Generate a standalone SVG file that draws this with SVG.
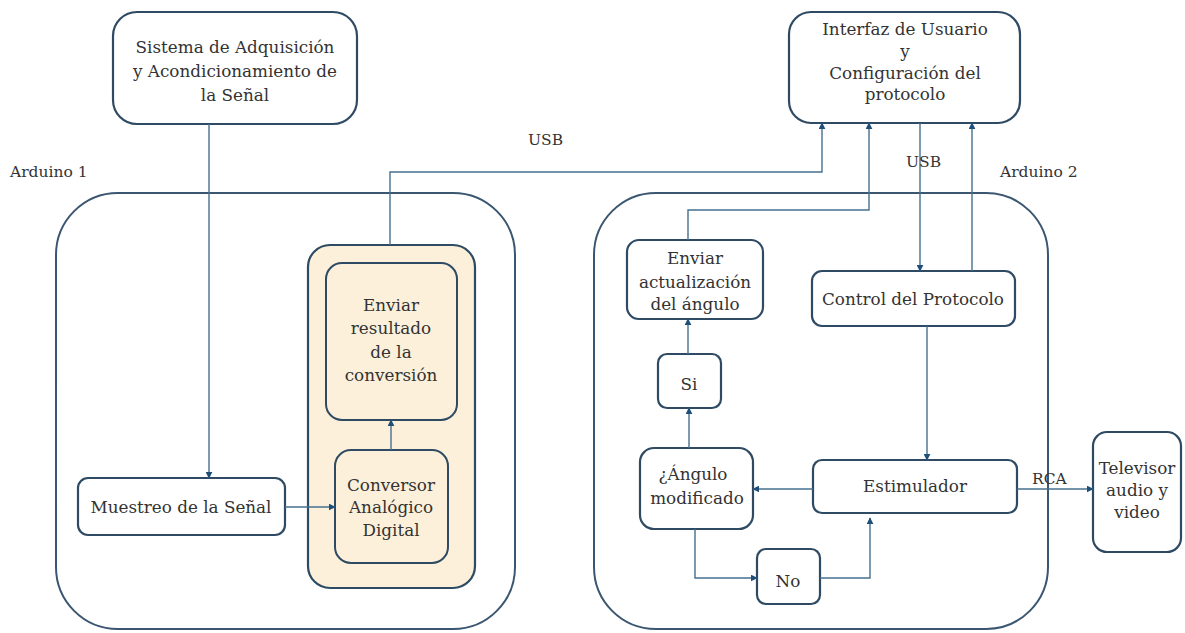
<svg xmlns="http://www.w3.org/2000/svg" width="1185" height="633" viewBox="0 0 1185 633">
<style>
.box{fill:#ffffff;stroke:#2f4a63;stroke-width:2.2}
.cont{fill:#ffffff;stroke:#3a5670;stroke-width:2}
.yel{fill:#fcf0da;stroke:#2f4a63;stroke-width:2.2}
.yin{fill:#fcf0da;stroke:#2f4a63;stroke-width:2}
.t{font-family:"DejaVu Serif","Liberation Serif",serif;font-size:16.8px;fill:#333333;text-anchor:middle}
.l{font-family:"DejaVu Serif","Liberation Serif",serif;font-size:15.5px;fill:#333333}
.c{fill:none;stroke:#45708f;stroke-width:1.4}
</style>
<defs>
<marker id="ah" viewBox="0 0 10 10" refX="9" refY="5" markerWidth="7" markerHeight="7" orient="auto" markerUnits="userSpaceOnUse">
<path d="M0,0 L10,5 L0,10 z" fill="#1f4e79"/>
</marker>
</defs>
<rect width="1185" height="633" fill="#ffffff"/>
<g id="arduino1">
<rect class="cont" x="56" y="193" width="459" height="436" rx="62"/>
<text class="l" x="10" y="177">Arduino 1</text>
</g>
<g id="arduino2">
<rect class="cont" x="594" y="193" width="454" height="436" rx="62"/>
<text class="l" x="1000" y="177">Arduino 2</text>
</g>
<g id="adquisicion">
<rect class="box" x="113" y="12" width="244" height="112" rx="24"/>
<text class="t" x="235" y="53">Sistema de Adquisición</text>
<text class="t" x="235" y="77">y Acondicionamiento de</text>
<text class="t" x="235" y="101">la Señal</text>
</g>
<g id="interfaz">
<rect class="box" x="789" y="12" width="231" height="111" rx="22"/>
<text class="t" x="905" y="35">Interfaz de Usuario</text>
<text class="t" x="905" y="57">y</text>
<text class="t" x="905" y="79">Configuración del</text>
<text class="t" x="905" y="100">protocolo</text>
</g>
<g id="contenedor">
<rect class="yel" x="308" y="245" width="167" height="343" rx="22"/>
</g>
<g id="enviar-resultado">
<rect class="yin" x="326" y="263" width="131" height="157" rx="16"/>
<text class="t" x="391" y="311">Enviar</text>
<text class="t" x="391" y="334">resultado</text>
<text class="t" x="391" y="358">de la</text>
<text class="t" x="391" y="381">conversión</text>
</g>
<g id="conversor">
<rect class="yin" x="335" y="450" width="113" height="113" rx="16"/>
<text class="t" x="391" y="491">Conversor</text>
<text class="t" x="391" y="513">Analógico</text>
<text class="t" x="391" y="536">Digital</text>
</g>
<g id="muestreo">
<rect class="box" x="78" y="478" width="207" height="57" rx="10"/>
<text class="t" x="181" y="513">Muestreo de la Señal</text>
</g>
<g id="enviar-angulo">
<rect class="box" x="627" y="240" width="136" height="79" rx="12"/>
<text class="t" x="695" y="264">Enviar</text>
<text class="t" x="695" y="288">actualización</text>
<text class="t" x="695" y="310">del ángulo</text>
</g>
<g id="control">
<rect class="box" x="812" y="271" width="203" height="55" rx="10"/>
<text class="t" x="913" y="305">Control del Protocolo</text>
</g>
<g id="si">
<rect class="box" x="658" y="354" width="63" height="54" rx="9"/>
<text class="t" x="689" y="390">Si</text>
</g>
<g id="angulo">
<rect class="box" x="640" y="448" width="113" height="81" rx="14"/>
<text class="t" x="693" y="480">¿Ángulo</text>
<text class="t" x="697" y="504">modificado</text>
</g>
<g id="estimulador">
<rect class="box" x="813" y="460" width="204" height="53" rx="9"/>
<text class="t" x="915" y="492">Estimulador</text>
</g>
<g id="no">
<rect class="box" x="757" y="549" width="63" height="55" rx="9"/>
<text class="t" x="788" y="587">No</text>
</g>
<g id="televisor">
<rect class="box" x="1093" y="432" width="88" height="120" rx="14"/>
<text class="t" x="1137" y="474">Televisor</text>
<text class="t" x="1137" y="496">audio y</text>
<text class="t" x="1137" y="518">video</text>
</g>
<g id="connectors">
<path class="c" d="M209,124 V478" marker-end="url(#ah)"/>
<path class="c" d="M285,507 H335" marker-end="url(#ah)"/>
<path class="c" d="M391,450 V420" marker-end="url(#ah)"/>
<path class="c" d="M390,245 V172 H822 V123" marker-end="url(#ah)"/>
<path class="c" d="M688,240 V210 H869 V123" marker-end="url(#ah)"/>
<path class="c" d="M920,123 V271" marker-end="url(#ah)"/>
<path class="c" d="M972,271 V123" marker-end="url(#ah)"/>
<path class="c" d="M688,354 V319" marker-end="url(#ah)"/>
<path class="c" d="M927,326 V460" marker-end="url(#ah)"/>
<path class="c" d="M813,489 H753" marker-end="url(#ah)"/>
<path class="c" d="M689,448 V408" marker-end="url(#ah)"/>
<path class="c" d="M695,529 V578 H757" marker-end="url(#ah)"/>
<path class="c" d="M820,578 H870 V518" marker-end="url(#ah)"/>
<path class="c" d="M1017,489 H1093" marker-end="url(#ah)"/>
<text class="l" x="528" y="145">USB</text>
<text class="l" x="906" y="167">USB</text>
<text class="l" x="1032" y="484">RCA</text>
</g>
</svg>
